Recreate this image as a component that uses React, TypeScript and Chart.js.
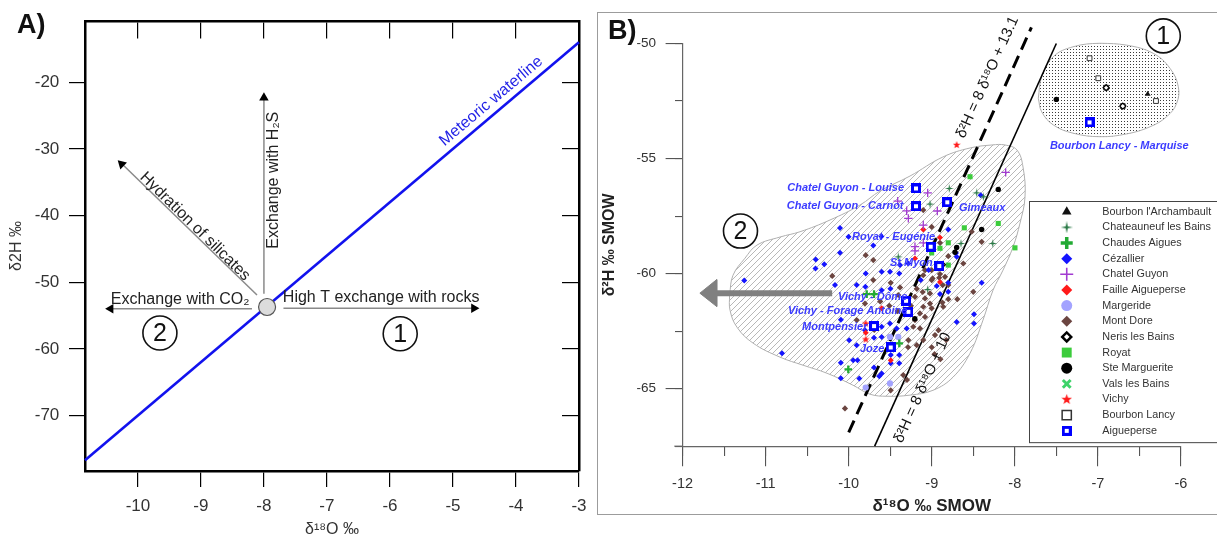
import React, { useEffect, useRef } from 'react';
import { Chart, registerables } from 'chart.js';
import { drawPoint } from 'chart.js/helpers';

Chart.register(...registerables);
const FONT = "'Liberation Sans', Arial, Helvetica, sans-serif";
Chart.defaults.font.family = FONT;

type P = [number, number];
const toXY = (pts: P[]) => pts.map(([x, y]) => ({ x, y }));

// ================= Panel A data =================
const aXRange: P = [-10.84, -3];
const aYRange: P = [-78.3, -10.8];
const aMeteoricLine: P[] = [[-10.84, -76.7], [-3, -14.0]];
const aStartPoint: P[] = [[-7.95, -53.7]];
const aArrowShafts: P[][] = [
  [[-7.69, -53.9], [-4.62, -53.9]],
  [[-8.19, -53.95], [-10.48, -53.95]],
  [[-8.0, -51.7], [-8.0, -21.9]],
  [[-8.11, -51.9], [-10.28, -32.0]],
];
const aArrowHeads: P[] = [[-4.667, -53.9], [-10.433, -53.95], [-8.0, -22.32], [-10.258, -32.26]];
const aArrowHeadAngles = [90, 270, 0, -46];
const aLabels = [
  { text: 'Meteoric waterline', x: -4.393, y: -22.83, rot: -40.2, color: '#1f1fe6' },
  { text: 'Exchange with H₂S', x: -7.851, y: -34.68, rot: -90, color: '#222' },
  { text: 'Hydration of silicates', x: -9.094, y: -41.63, rot: 44.5, color: '#222' },
  { text: 'Exchange with CO₂', x: -9.33, y: -52.56, rot: 0, color: '#222' },
  { text: 'High T exchange with rocks', x: -6.14, y: -52.35, rot: 0, color: '#222' },
];
const aCircled = [
  { label: '2', x: -9.651, y: -57.6 },
  { label: '1', x: -5.837, y: -57.71 },
];

// ================= Panel B data =================
const bXRange: P = [-12, -6];
const bYRange: P = [-67.5, -50];
const blobTopRight: P[] = [
  [-7.717, -52.38], [-7.676, -51.44], [-7.536, -50.57], [-7.296, -50.14], [-6.974, -49.99], [-6.653, -50.07],
  [-6.332, -50.43], [-6.131, -51.08], [-6.031, -51.88], [-6.051, -52.6], [-6.171, -53.18], [-6.372, -53.62],
  [-6.653, -53.93], [-6.974, -54.05], [-7.296, -53.9], [-7.536, -53.54], [-7.676, -52.97], [-7.717, -52.38],
];
const blobMain: P[] = [
  [-11.435, -60.93], [-11.393, -60.07], [-11.249, -59.33], [-11.104, -58.76], [-10.827, -58.41], [-10.586, -58.18],
  [-10.225, -57.67], [-9.864, -57.02], [-9.623, -56.41], [-9.262, -55.76], [-8.865, -54.93], [-8.539, -54.54],
  [-8.275, -54.41], [-8.118, -54.41], [-7.974, -54.63], [-7.901, -55.37], [-7.877, -56.67], [-7.937, -57.8],
  [-8.022, -58.85], [-8.142, -59.85], [-8.262, -60.72], [-8.383, -62.02], [-8.539, -63.46], [-8.744, -64.5],
  [-8.985, -65.07], [-9.262, -65.28], [-9.539, -65.33], [-9.744, -65.24], [-9.948, -64.85], [-10.261, -64.33],
  [-10.55, -63.98], [-10.827, -63.63], [-11.152, -63.02], [-11.345, -62.33], [-11.429, -61.59], [-11.435, -60.93],
];
const lineLocal131: P[] = [[-10.0, -66.9], [-7.8, -49.3]];
const lineGlobal10: P[] = [[-9.6875, -67.5], [-7.5, -50.0]];
const arrowShaftB: P[] = [[-10.199, -60.85], [-11.6, -60.85]];
const arrowHeadB: P[] = [[-11.792, -60.85], [-11.589, -60.26], [-11.589, -61.43], [-11.792, -60.85]];
const xAxisStub: P[] = [[-12.1, -67.5], [-12, -67.5]];

const bourbonArchambault: P[] = [[-6.4, -52.2]];
const chateauneuf: P[] = [
  [-8.789, -56.3], [-8.459, -56.49], [-8.379, -56.66], [-8.266, -58.69], [-9.403, -59.27], [-8.648, -58.69],
  [-9.021, -56.98], [-9.049, -60.69],
];
const chaudesAigues: P[] = [[-10.005, -64.16], [-9.783, -60.89], [-9.695, -60.89], [-9.391, -63.03]];
const cezallier: P[] = [
  [-11.258, -60.3], [-10.803, -63.46], [-10.397, -59.39], [-10.4, -59.78], [-10.294, -59.59], [-10.105, -58.02],
  [-10.002, -58.4], [-10.105, -59.09], [-10.165, -60.5], [-10.095, -63.87], [-10.095, -64.55], [-9.994, -62.9],
  [-9.946, -63.76], [-9.894, -63.76], [-9.904, -63.11], [-9.799, -60.57], [-9.704, -58.78], [-9.606, -58.39],
  [-9.795, -59.99], [-9.603, -59.92], [-9.503, -59.92], [-9.391, -59.99], [-9.904, -60.5], [-9.695, -62.79],
  [-9.632, -64.46], [-9.695, -64.08], [-9.603, -64.34], [-9.498, -60.66], [-9.503, -62.17], [-9.494, -63.54],
  [-9.391, -63.54], [-9.494, -63.9], [-9.391, -63.9], [-9.298, -61.26], [-9.133, -60.28], [-8.94, -60.54],
  [-8.901, -60.89], [-8.801, -60.79], [-8.801, -60.4], [-8.399, -60.4], [-8.491, -61.77], [-8.491, -62.17],
  [-8.7, -62.1], [-8.801, -58.08], [-8.708, -59.1], [-8.411, -56.59], [-8.7, -59.27], [-9.872, -64.56],
  [-9.603, -62.31], [-9.603, -62.75], [-9.804, -62.46], [-9.422, -62.38], [-9.302, -62.38], [-9.603, -60.72],
  [-9.382, -59.63], [-9.282, -59.56], [-10.094, -62.0], [-9.038, -59.84],
];
const chatelGuyon: P[] = [
  [-9.049, -56.49], [-9.302, -57.27], [-9.282, -57.6], [-8.933, -57.28], [-9.102, -57.89], [-9.202, -58.83],
  [-9.202, -59.01], [-9.102, -58.66], [-8.11, -55.6], [-9.41, -56.85],
];
const failleAigueperse: P[] = [
  [-8.901, -58.43], [-9.102, -58.08], [-9.202, -59.34], [-8.901, -60.36], [-9.603, -61.51], [-9.494, -63.76],
  [-9.795, -62.57],
];
const margeride: P[] = [[-9.795, -64.95], [-9.503, -64.77], [-9.503, -62.75], [-9.403, -62.75]];
const montDore: P[] = [
  [-9.795, -59.2], [-9.704, -59.41], [-10.198, -60.1], [-9.704, -60.28], [-9.804, -61.3], [-9.904, -62.02],
  [-10.045, -65.86], [-9.494, -60.4], [-9.382, -60.6], [-9.403, -60.93], [-9.621, -61.21], [-9.511, -61.4],
  [-9.412, -61.63], [-9.251, -61.4], [-9.202, -61.01], [-9.18, -60.66], [-9.109, -60.8], [-9.081, -61.08],
  [-9.021, -60.86], [-9.021, -61.3], [-9.102, -61.44], [-9.001, -61.51], [-9.142, -61.73], [-9.081, -61.88],
  [-9.202, -62.02], [-9.222, -62.31], [-9.142, -62.38], [-9.282, -62.89], [-9.102, -62.89], [-9.181, -63.11],
  [-8.961, -62.67], [-8.919, -62.46], [-8.825, -62.89], [-9.0, -63.2], [-8.967, -63.5], [-8.896, -63.72],
  [-9.285, -63.2], [-9.343, -64.41], [-9.298, -64.62], [-9.494, -65.07], [-8.861, -61.44], [-8.872, -61.26],
  [-8.801, -61.11], [-8.692, -61.11], [-8.868, -60.5], [-8.801, -60.5], [-8.5, -60.79], [-8.99, -60.21],
  [-8.91, -60.18], [-9.001, -60.28], [-9.081, -59.85], [-9.001, -59.85], [-9.102, -60.07], [-8.901, -60.02],
  [-8.84, -60.14], [-8.62, -59.56], [-8.801, -59.24], [-8.901, -58.66], [-9.001, -57.97], [-9.102, -57.24],
  [-8.519, -58.18], [-8.399, -58.62], [-9.692, -62.45],
];
const nerisBains: P[] = [[-8.872, -59.61], [-6.9, -51.92], [-6.7, -52.72]];
const royat: P[] = [
  [-8.539, -55.79], [-8.199, -57.82], [-8.608, -58.01], [-7.998, -58.88], [-8.801, -58.66], [-8.901, -58.9],
  [-9.001, -59.1], [-8.801, -59.63],
];
const steMarguerite: P[] = [[-8.199, -56.34], [-8.399, -58.08], [-8.7, -58.86], [-8.72, -59.07], [-9.204, -61.96], [-7.5, -52.43]];
const valsBains: P[] = [];
const vichy: P[] = [[-8.7, -54.41], [-9.795, -62.17], [-9.795, -62.86]];
const bourbonLancy: P[] = [[-7.1, -50.64], [-6.995, -51.51], [-6.9, -51.92], [-6.7, -52.72], [-6.3, -52.5]];
const aigueperse: P[] = [
  [-9.19, -56.3], [-9.19, -57.07], [-8.813, -56.9], [-9.013, -58.83], [-8.909, -59.67], [-9.31, -61.18],
  [-9.282, -61.66], [-9.695, -62.28], [-9.494, -63.21], [-7.1, -53.43],
];

const bStationLabels = [
  { text: 'Chatel Guyon - Louise', x: -9.334, y: -56.28, align: 'right' },
  { text: 'Chatel Guyon - Carnot', x: -9.34, y: -57.07, align: 'right' },
  { text: 'Gimeaux', x: -8.672, y: -57.15, align: 'left' },
  { text: 'Royat - Eugénie', x: -9.96, y: -58.41, align: 'left' },
  { text: 'St Myon', x: -9.503, y: -59.54, align: 'left' },
  { text: 'Vichy - Dôme', x: -10.129, y: -61.02, align: 'left' },
  { text: 'Vichy - Forage Antoine', x: -10.731, y: -61.63, align: 'left' },
  { text: 'Montpensier', x: -10.562, y: -62.33, align: 'left' },
  { text: 'Joze', x: -9.864, y: -63.28, align: 'left' },
  { text: 'Bourbon Lancy - Marquise', x: -6.742, y: -54.46, align: 'center' },
];
const bLineLabels = [
  { text: 'δ²H = 8 δ¹⁸O + 13.1', x: -8.328, y: -51.47, rot: -65.7 },
  { text: 'δ²H = 8 δ¹⁸O + 10', x: -9.109, y: -64.96, rot: -65.7 },
];
const bCircled = [
  { label: '2', x: -11.303, y: -58.15 },
  { label: '1', x: -6.212, y: -49.67 },
];
const bLegendBox = { left: -7.825, top: -56.83, bottom: -67.31 };

// ================= helpers =================
function makeCanvas(w: number, h: number, draw: (c: CanvasRenderingContext2D) => void) {
  const c = document.createElement('canvas');
  c.width = w; c.height = h;
  draw(c.getContext('2d') as CanvasRenderingContext2D);
  return c;
}
function starImage(size: number, points: number, inner: number, color: string) {
  return makeCanvas(size, size, (ctx) => {
    const c = size / 2;
    ctx.fillStyle = color;
    ctx.beginPath();
    for (let i = 0; i < points * 2; i++) {
      const ang = (i * Math.PI) / points - Math.PI / 2;
      const rr = i % 2 === 0 ? c : c * inner;
      ctx.lineTo(c + rr * Math.cos(ang), c + rr * Math.sin(ang));
    }
    ctx.closePath();
    ctx.fill();
  });
}
function squareImage(size: number) {
  return makeCanvas(size, size, (ctx) => {
    ctx.fillStyle = '#0000ff';
    ctx.fillRect(0, 0, size, size);
    ctx.fillStyle = '#ffffff';
    const s = Math.round(size * 0.38);
    ctx.fillRect((size - s) / 2, (size - s) / 2, s, s);
  });
}
function drawRotatedText(ctx: CanvasRenderingContext2D, text: string, px: number, py: number, rot: number) {
  ctx.save();
  ctx.translate(px, py);
  ctx.rotate((rot * Math.PI) / 180);
  ctx.fillText(text, 0, 0);
  ctx.restore();
}
function drawCircled(ctx: CanvasRenderingContext2D, label: string, px: number, py: number) {
  ctx.save();
  ctx.beginPath();
  ctx.arc(px, py, 17, 0, Math.PI * 2);
  ctx.fillStyle = '#ffffff';
  ctx.fill();
  ctx.lineWidth = 1.6;
  ctx.strokeStyle = '#111';
  ctx.stroke();
  ctx.fillStyle = '#111';
  ctx.font = `25px ${FONT}`;
  ctx.textAlign = 'center';
  ctx.textBaseline = 'middle';
  ctx.fillText(label, px, py + 1);
  ctx.restore();
}
const lineDs = (data: P[], extra: any) => ({
  type: 'line', data: toXY(data), pointRadius: 0, pointHitRadius: 0, fill: false, clip: false, ...extra,
});

// ================= Panel A =================
function PanelA() {
  const ref = useRef<HTMLCanvasElement>(null);
  useEffect(() => {
    const annot = {
      id: 'aAnnot',
      afterDatasetsDraw(chart: any) {
        const { ctx } = chart;
        const xs = chart.scales.x, ys = chart.scales.y;
        ctx.save();
        ctx.font = `16px ${FONT}`;
        ctx.textAlign = 'center';
        ctx.textBaseline = 'middle';
        for (const l of aLabels) {
          ctx.fillStyle = l.color;
          drawRotatedText(ctx, l.text, xs.getPixelForValue(l.x), ys.getPixelForValue(l.y), l.rot);
        }
        for (const c of aCircled) drawCircled(ctx, c.label, xs.getPixelForValue(c.x), ys.getPixelForValue(c.y));
        ctx.restore();
      },
    };
    const datasets: any[] = [
      lineDs(aMeteoricLine, { borderColor: '#1212ee', borderWidth: 2.6, order: 5 }),
      ...aArrowShafts.map((s) => lineDs(s, { borderColor: '#8a8a8a', borderWidth: 1.5, order: 4 })),
      {
        type: 'scatter', data: toXY(aArrowHeads), pointStyle: 'triangle', pointRadius: 5.5,
        pointRotation: aArrowHeadAngles, pointBackgroundColor: '#000', pointBorderWidth: 0, order: 2,
      },
      {
        type: 'scatter', data: toXY(aStartPoint), pointStyle: 'circle', pointRadius: 8.5,
        pointBackgroundColor: '#dcdcdc', pointBorderColor: '#555', pointBorderWidth: 1.2, order: 1,
      },
    ];
    const tickFont = { size: 17, family: FONT };
    const chart = new Chart(ref.current as HTMLCanvasElement, {
      type: 'scatter',
      data: { datasets },
      options: {
        responsive: false, maintainAspectRatio: false, animation: false, events: [],
        layout: { padding: { left: 0, top: 21, right: 16, bottom: 0 } },
        plugins: { legend: { display: false }, tooltip: { enabled: false } },
        scales: {
          x: {
            type: 'linear', position: 'bottom', min: aXRange[0], max: aXRange[1],
            afterFit: (s: any) => { s.height = 68; },
            ticks: { stepSize: 1, includeBounds: false, color: '#333', font: tickFont, padding: 9.5 },
            grid: { drawOnChartArea: false, tickLength: 16, color: '#000', lineWidth: 1.2 },
            border: { display: true, color: '#000', width: 2.5 },
            title: { display: true, text: 'δ¹⁸O ‰', color: '#333', font: { size: 16, family: FONT }, padding: { top: 0, bottom: 0 } },
          },
          y: {
            type: 'linear', position: 'left', min: aYRange[0], max: aYRange[1],
            afterFit: (s: any) => { s.width = 85; },
            ticks: { stepSize: 10, includeBounds: false, color: '#333', font: tickFont, padding: 9.7 },
            grid: { drawOnChartArea: false, tickLength: 16, color: '#000', lineWidth: 1.2 },
            border: { display: true, color: '#000', width: 2.5 },
            title: { display: true, text: 'δ2H ‰', color: '#333', font: { size: 16, family: FONT }, padding: { top: 7.4, bottom: 0 } },
          },
          xTop: {
            type: 'linear', axis: 'x', position: { y: aYRange[1] }, min: aXRange[0], max: aXRange[1],
            ticks: { display: false, stepSize: 1, includeBounds: false },
            grid: { drawOnChartArea: false, tickLength: 16, color: '#000', lineWidth: 1.2 },
            border: { display: true, color: '#000', width: 2.5 },
          },
          yRight: {
            type: 'linear', axis: 'y', position: { x: aXRange[1] }, min: aYRange[0], max: aYRange[1],
            ticks: { display: false, stepSize: 10, includeBounds: false },
            grid: { drawOnChartArea: false, tickLength: 16, color: '#000', lineWidth: 1.2 },
            border: { display: true, color: '#000', width: 2.5 },
          },
        } as any,
      },
      plugins: [annot],
    } as any);
    return () => chart.destroy();
  }, []);
  return (
    <canvas ref={ref} width={596} height={539}
      style={{ position: 'absolute', left: 0, top: 0, width: 596, height: 539 }} />
  );
}

// ================= Panel B =================
function PanelB() {
  const ref = useRef<HTMLCanvasElement>(null);
  useEffect(() => {
    const hatch = makeCanvas(6, 6, (c) => {
      c.strokeStyle = '#a6a6a6';
      c.lineWidth = 0.8;
      c.beginPath();
      c.moveTo(0, 6); c.lineTo(6, 0);
      c.moveTo(-1, 1); c.lineTo(1, -1);
      c.moveTo(5, 7); c.lineTo(7, 5);
      c.stroke();
    });
    const dots = makeCanvas(3, 3, (c) => {
      c.fillStyle = '#ffffff';
      c.fillRect(0, 0, 3, 3);
      c.fillStyle = '#3a3a3a';
      c.fillRect(1, 1, 1, 1);
    });
    const ctx0 = (ref.current as HTMLCanvasElement).getContext('2d') as CanvasRenderingContext2D;
    const hatchPattern = ctx0.createPattern(hatch, 'repeat');
    const dotPattern = ctx0.createPattern(dots, 'repeat');

    const star4Small = starImage(9, 4, 0.25, '#2b7a47');
    const star4Large = starImage(12, 4, 0.25, '#2b7a47');
    const star5Small = starImage(8, 5, 0.42, '#ff1a1a');
    const star5Large = starImage(11, 5, 0.42, '#ff1a1a');
    const sqSmall = squareImage(10);

    const series: any[] = [
      { name: "Bourbon l'Archambault", data: bourbonArchambault, style: 'triangle', r: 3.4, lr: 5.5, fill: '#111', stroke: '#111', lw: 0 },
      { name: 'Chateauneuf les Bains', data: chateauneuf, style: star4Small, lstyle: star4Large, r: 4, lr: 6, fill: '#2b7a47', stroke: '#2b7a47', lw: 0 },
      { name: 'Chaudes Aigues', data: chaudesAigues, style: 'cross', r: 3.8, lr: 6, lw: 2.3, llw: 3.5, fill: '#22aa33', stroke: '#22aa33' },
      { name: 'Cézallier', data: cezallier, style: 'rectRot', r: 3, lr: 5.5, fill: '#1414ff', stroke: '#1414ff', lw: 0 },
      { name: 'Chatel Guyon', data: chatelGuyon, style: 'cross', r: 4.2, lr: 6.5, lw: 1.3, llw: 1.6, fill: '#a23bd1', stroke: '#a23bd1' },
      { name: 'Faille Aigueperse', data: failleAigueperse, style: 'rectRot', r: 3, lr: 5.5, fill: '#ff1a1a', stroke: '#ff1a1a', lw: 0 },
      { name: 'Margeride', data: margeride, style: 'circle', r: 3.1, lr: 5.5, fill: '#a3a3ff', stroke: '#a3a3ff', lw: 0 },
      { name: 'Mont Dore', data: montDore, style: 'rectRot', r: 3.1, lr: 5.5, fill: '#6b4540', stroke: '#6b4540', lw: 0 },
      { name: 'Neris les Bains', data: nerisBains, style: 'rectRot', r: 3, lr: 4.5, lw: 1.3, llw: 2.5, fill: '#ffffff', stroke: '#000' },
      { name: 'Royat', data: royat, style: 'rect', r: 3.6, lr: 7, fill: '#3ccc3c', stroke: '#3ccc3c', lw: 0 },
      { name: 'Ste Marguerite', data: steMarguerite, style: 'circle', r: 2.7, lr: 5.5, fill: '#000', stroke: '#000', lw: 0 },
      { name: 'Vals les Bains', data: valsBains, style: 'crossRot', r: 4, lr: 5.5, lw: 2.5, llw: 3, fill: '#3ed36a', stroke: '#3ed36a' },
      { name: 'Vichy', data: vichy, style: star5Small, lstyle: star5Large, r: 4, lr: 5, fill: '#ff1a1a', stroke: '#ff1a1a', lw: 0 },
      { name: 'Bourbon Lancy', data: bourbonLancy, style: 'rect', r: 3.4, lr: 6.5, lw: 1, llw: 1.5, fill: '#ffffff', stroke: '#333' },
      { name: 'Aigueperse', data: aigueperse, style: sqSmall, lstyle: sqSmall, r: 5, lr: 5, fill: '#0000ff', stroke: '#0000ff', lw: 0 },
    ];
    const orderOf = (name: string) => (name === 'Aigueperse' ? 0 : name === 'Mont Dore' ? 4 : name === 'Cézallier' ? 3 : 2);

    const datasets: any[] = [
      lineDs(blobTopRight, { borderColor: '#b0b0b0', borderWidth: 1, fill: 'shape', backgroundColor: dotPattern, tension: 0.4, order: 20 }),
      lineDs(blobMain, { borderColor: '#b0b0b0', borderWidth: 1, fill: 'shape', backgroundColor: hatchPattern, tension: 0.4, order: 19 }),
      lineDs(lineLocal131, { borderColor: '#000', borderWidth: 3, borderDash: [13, 7], order: 10 }),
      lineDs(lineGlobal10, { borderColor: '#000', borderWidth: 1.6, order: 10 }),
      lineDs(arrowShaftB, { borderColor: '#808080', borderWidth: 6, order: 9 }),
      lineDs(arrowHeadB, { borderColor: '#808080', borderWidth: 1, fill: 'shape', backgroundColor: '#808080', order: 9 }),
      lineDs(xAxisStub, { borderColor: '#666', borderWidth: 1.2, order: 9 }),
      ...series.map((s) => ({
        type: 'scatter', label: s.name, data: toXY(s.data), order: orderOf(s.name),
        pointStyle: s.style, pointRadius: s.r, pointBackgroundColor: s.fill, pointBorderColor: s.stroke,
        pointBorderWidth: s.lw, clip: false,
      })),
    ];

    const annot = {
      id: 'bAnnot',
      afterDatasetsDraw(chart: any) {
        const { ctx } = chart;
        const xs = chart.scales.x, ys = chart.scales.y;
        ctx.save();
        ctx.font = `italic bold 11px ${FONT}`;
        ctx.fillStyle = '#3c3cff';
        ctx.textBaseline = 'middle';
        for (const l of bStationLabels) {
          ctx.textAlign = l.align as CanvasTextAlign;
          ctx.fillText(l.text, xs.getPixelForValue(l.x), ys.getPixelForValue(l.y));
        }
        ctx.font = `15px ${FONT}`;
        ctx.fillStyle = '#111';
        ctx.textAlign = 'center';
        for (const l of bLineLabels) drawRotatedText(ctx, l.text, xs.getPixelForValue(l.x), ys.getPixelForValue(l.y), l.rot);
        for (const c of bCircled) drawCircled(ctx, c.label, xs.getPixelForValue(c.x), ys.getPixelForValue(c.y));
        ctx.restore();
      },
      afterDraw(chart: any) {
        const { ctx } = chart;
        const xs = chart.scales.x, ys = chart.scales.y;
        const left = xs.getPixelForValue(bLegendBox.left);
        const top = ys.getPixelForValue(bLegendBox.top);
        const bottom = ys.getPixelForValue(bLegendBox.bottom);
        ctx.save();
        ctx.fillStyle = '#ffffff';
        ctx.fillRect(left, top, chart.width - left + 5, bottom - top);
        ctx.strokeStyle = '#444';
        ctx.lineWidth = 1;
        ctx.strokeRect(Math.round(left) + 0.5, Math.round(top) + 0.5, chart.width - left + 5, bottom - top);
        const step = (bottom - top - 22) / (series.length - 1);
        series.forEach((s, i) => {
          const yy = top + 11 + i * step;
          ctx.fillStyle = s.fill;
          ctx.strokeStyle = s.stroke;
          const bw = s.llw ?? s.lw;
          if (bw > 0) ctx.lineWidth = bw;
          drawPoint(ctx, { pointStyle: s.lstyle ?? s.style, radius: s.lr, rotation: 0, borderWidth: bw } as any, left + 37.4, yy);
          ctx.fillStyle = '#333';
          ctx.font = `10.8px ${FONT}`;
          ctx.textAlign = 'left';
          ctx.textBaseline = 'middle';
          ctx.fillText(s.name, left + 73, yy);
        });
        ctx.restore();
      },
    };

    const chart = new Chart(ref.current as HTMLCanvasElement, {
      type: 'scatter',
      data: { datasets },
      options: {
        responsive: false, maintainAspectRatio: false, animation: false, events: [],
        layout: { padding: { left: 0, top: 43.5, right: 36.1, bottom: 0 } },
        plugins: { legend: { display: false }, tooltip: { enabled: false } },
        scales: {
          x: {
            type: 'linear', position: 'bottom', min: bXRange[0], max: bXRange[1],
            afterFit: (s: any) => { s.height = 92.8; },
            ticks: { stepSize: 1, color: '#333', font: { size: 14.5, family: FONT }, padding: 9.5 },
            grid: { drawOnChartArea: false, tickLength: 20, color: '#555', lineWidth: 1.1 },
            border: { display: true, color: '#666', width: 1.2 },
            title: { display: true, text: 'δ¹⁸O ‰ SMOW', color: '#222', font: { size: 17, weight: 'bold', family: FONT }, padding: { top: 0, bottom: 22.8 } },
          },
          y: {
            type: 'linear', position: 'left', min: bYRange[0], max: bYRange[1],
            afterFit: (s: any) => { s.width = 84.6; },
            ticks: { stepSize: 5, includeBounds: false, color: '#333', font: { size: 13.5, family: FONT }, padding: 9.6 },
            grid: { drawOnChartArea: false, tickLength: 17, color: '#555', lineWidth: 1.1 },
            border: { display: true, color: '#666', width: 1.2 },
            title: { display: true, text: 'δ²H ‰ SMOW', color: '#222', font: { size: 16, weight: 'bold', family: FONT }, padding: { top: 2.4, bottom: 0 } },
          },
          xMinor: {
            type: 'linear', axis: 'x', position: { y: bYRange[0] }, min: bXRange[0], max: bXRange[1],
            ticks: { display: false, stepSize: 0.5 },
            grid: { drawOnChartArea: false, tickLength: 10, color: '#555', lineWidth: 1.1 },
            border: { display: false },
          },
          yMinor: {
            type: 'linear', axis: 'y', position: { x: bXRange[0] }, min: bYRange[0], max: bYRange[1],
            ticks: { display: false, stepSize: 2.5 },
            grid: { drawOnChartArea: false, tickLength: 8, color: '#555', lineWidth: 1.1 },
            border: { display: false },
          },
        } as any,
      },
      plugins: [annot],
    } as any);
    return () => chart.destroy();
  }, []);
  return (
    <canvas ref={ref} width={619} height={539}
      style={{ position: 'absolute', left: 598, top: 0, width: 619, height: 539 }} />
  );
}

export default function App() {
  const panelLabel: React.CSSProperties = {
    position: 'absolute', font: `bold 27px ${FONT}`, lineHeight: '27px', color: '#111', margin: 0,
  };
  return (
    <div style={{ position: 'absolute', left: 0, top: 0, width: 1217, height: 539, background: '#fff', overflow: 'hidden' }}>
      <div style={{
        position: 'absolute', left: 597, top: 12, width: 640, height: 501,
        borderTop: '1.5px solid #9c9c9c', borderLeft: '1.5px solid #9c9c9c', borderBottom: '1.5px solid #9c9c9c',
      }} />
      <PanelA />
      <PanelB />
      <div style={{ ...panelLabel, left: 17, top: 10.5 }}>A)</div>
      <div style={{ ...panelLabel, left: 608, top: 16.5 }}>B)</div>
    </div>
  );
}
